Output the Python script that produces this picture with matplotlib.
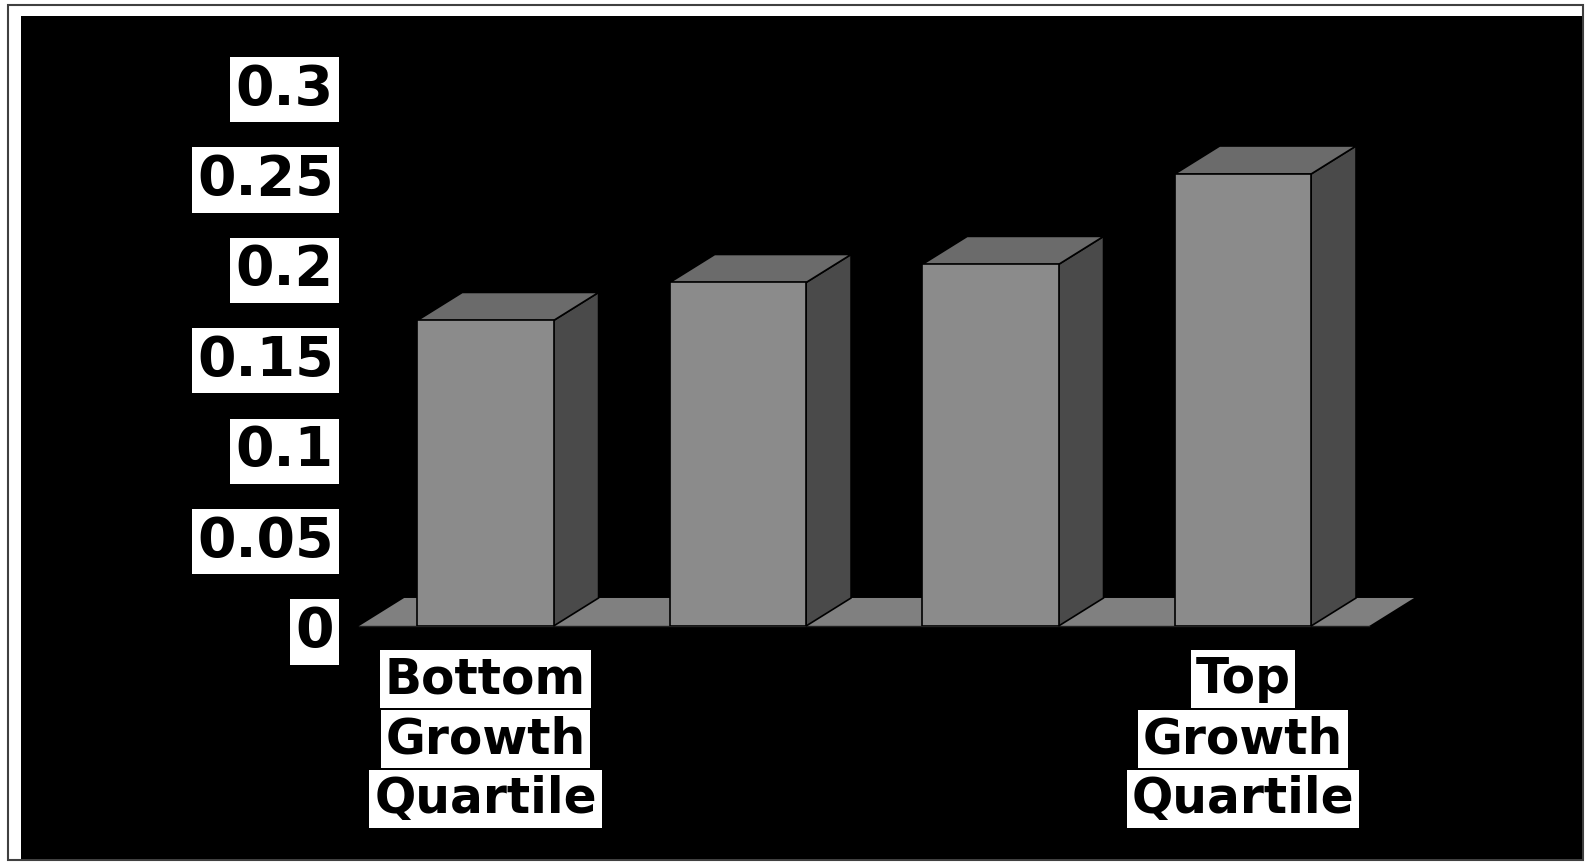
import matplotlib.pyplot as plt
from matplotlib.patches import Polygon, Rectangle

# Data
categories = [0, 1, 2, 3]
values = [0.169, 0.19, 0.2, 0.25]
y_ticks = [0, 0.05, 0.1, 0.15, 0.2, 0.25, 0.3]
y_tick_labels = ["0", "0.05", "0.1", "0.15", "0.2", "0.25", "0.3"]
x_label_pos = [0, 3]
x_label_lines = [["Bottom", "Growth", "Quartile"], ["Top", "Growth", "Quartile"]]

W, H = 1585, 866
fig = plt.figure(figsize=(W / 100, H / 100), dpi=100, facecolor="white")

# Outer frame and black plot panel (figure pixel coords -> fractions), behind the axes
fig.patches.append(Rectangle((8 / W, 1 - 860 / H), 1575 / W, 855 / H, transform=fig.transFigure,
                             fill=False, ec="#404040", lw=1.5, zorder=-10))
fig.patches.append(Rectangle((21 / W, 1 - 859 / H), 1561 / W, 843 / H, transform=fig.transFigure,
                             fc="black", ec="none", zorder=-9))

# Axes: bottom is y=0, left edge just right of the tick labels
ax = fig.add_axes([345 / W, 1 - 626 / H, 1237 / W, 610 / H])
ax.set_facecolor("none")
ax.set_xlim(-0.5564, 4.343)
ax.set_ylim(0, 0.3374)
for s in ax.spines.values():
    s.set_visible(False)

bar_w = 0.54
dx = 0.178   # depth offset, categories
dy = 0.0155  # depth offset, value units

front_c = "#8b8b8b"
top_c = "#6b6b6b"
side_c = "#4a4a4a"
floor_c = "#808080"

# Floor
ax.add_patch(Polygon([(-0.5, 0), (3.5, 0), (3.5 + dx, dy), (-0.5 + dx, dy)],
                     closed=True, fc=floor_c, ec="none", zorder=1, clip_on=False))
ax.plot([-0.5, 3.5], [0, 0], color="#202020", lw=1, zorder=1.5, clip_on=False)

# 3D bars: side, top, front
for x, v in zip(categories, values):
    l, r = x - bar_w / 2, x + bar_w / 2
    ax.add_patch(Polygon([(r, 0), (r + dx, dy), (r + dx, v + dy), (r, v)],
                         closed=True, fc=side_c, ec="black", lw=1.2, zorder=2, clip_on=False))
    ax.add_patch(Polygon([(l, v), (r, v), (r + dx, v + dy), (l + dx, v + dy)],
                         closed=True, fc=top_c, ec="black", lw=1.2, zorder=2, clip_on=False))
ax.bar(categories, values, width=bar_w, color=front_c, edgecolor="black", lw=1.2, zorder=3)

# Y tick labels in white boxes
ax.set_yticks(y_ticks)
ax.set_yticklabels(y_tick_labels, fontsize=40, fontweight="bold", color="black", family="DejaVu Sans")
ax.tick_params(axis="y", length=0, pad=8)
for t in ax.get_yticklabels():
    t.set_bbox(dict(boxstyle="square,pad=0.1", fc="white", ec="none"))
ax.set_xticks([])

# X labels, one white box per line
offsets = [53, 113, 173]
for x, lines in zip(x_label_pos, x_label_lines):
    for line, off in zip(lines, offsets):
        ax.annotate(line, xy=(x, 0), xytext=(0, -off), textcoords="offset pixels",
                    ha="center", va="center", fontsize=35, fontweight="bold",
                    family="DejaVu Sans", color="black", annotation_clip=False,
                    bbox=dict(boxstyle="square,pad=0.1", fc="white", ec="none"))

fig.savefig("out.png", dpi=100, facecolor="white")
